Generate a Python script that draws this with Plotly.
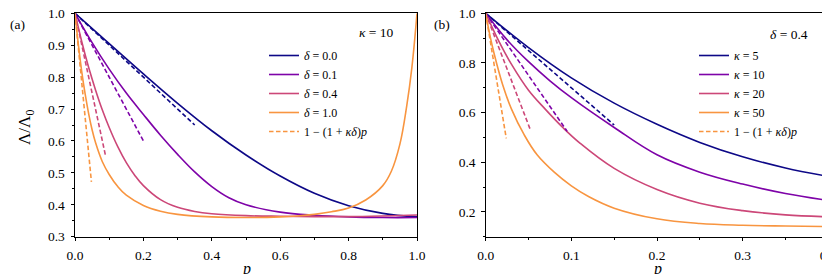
import plotly.graph_objects as go

# ---------------- data ----------------
# Panel (a): kappa = 10, various delta
A_LABELS = ["<i>δ</i> = 0.0", "<i>δ</i> = 0.1", "<i>δ</i> = 0.4", "<i>δ</i> = 1.0"]
A_P_D00 = [0, 0.1, 0.2, 0.3, 0.4, 0.5, 0.6, 0.7, 0.8, 0.9, 1.0]
A_V_D00 = [1.0, 0.905, 0.81, 0.718, 0.632, 0.556, 0.49, 0.436, 0.397, 0.373, 0.362]
A_P_D01 = [0, 0.05, 0.1, 0.15, 0.2, 0.25, 0.3, 0.35, 0.4, 0.45, 0.5, 0.6, 0.7, 0.8, 0.9, 1.0]
A_V_D01 = [1.0, 0.908, 0.825, 0.75, 0.683, 0.618, 0.558, 0.503, 0.457, 0.422, 0.4, 0.377, 0.367, 0.362, 0.36, 0.36]
A_P_D04 = [0, 0.02, 0.04, 0.06, 0.08, 0.1, 0.125, 0.15, 0.175, 0.2, 0.25, 0.3, 0.35, 0.4, 0.5, 0.6, 0.7, 0.8, 0.9, 1.0]
A_V_D04 = [1.0, 0.91, 0.83, 0.76, 0.697, 0.642, 0.582, 0.532, 0.492, 0.46, 0.416, 0.392, 0.379, 0.372, 0.366, 0.364, 0.363, 0.363, 0.365, 0.368]
A_P_D10 = [0, 0.01, 0.02, 0.03, 0.04, 0.05, 0.06, 0.08, 0.1, 0.125, 0.15, 0.2, 0.25, 0.3, 0.4, 0.5,
           0.6, 0.65, 0.7, 0.75, 0.8, 0.85, 0.9, 0.925, 0.95, 0.97, 0.985, 1.0]
A_V_D10 = [1.0, 0.9, 0.815, 0.745, 0.685, 0.635, 0.595, 0.535, 0.495, 0.457, 0.43, 0.398, 0.38, 0.37, 0.362, 0.36,
           0.362, 0.365, 0.37, 0.378, 0.39, 0.415, 0.46, 0.505, 0.59, 0.71, 0.83, 1.0]
# linear approximations 1-(1+kappa*delta)p : start and end points
A_DASH_P = [[0, 0.35], [0, 0.2], [0, 0.09], [0, 0.048]]
A_DASH_V = [[1.0, 0.65], [1.0, 0.6], [1.0, 0.55], [1.0, 0.472]]

# Panel (b): delta = 0.4, various kappa
B_LABELS = ["<i>κ</i> = 5", "<i>κ</i> = 10", "<i>κ</i> = 20", "<i>κ</i> = 50"]
B_P_K5 = [0, 0.05, 0.1, 0.15, 0.2, 0.25, 0.3, 0.35, 0.4]
B_V_K5 = [1.0, 0.862, 0.74, 0.638, 0.553, 0.48, 0.422, 0.377, 0.343]
B_P_K10 = [0, 0.025, 0.05, 0.075, 0.1, 0.15, 0.2, 0.25, 0.3, 0.35, 0.4]
B_V_K10 = [1.0, 0.893, 0.805, 0.728, 0.66, 0.54, 0.43, 0.36, 0.312, 0.274, 0.246]
B_P_K20 = [0, 0.015, 0.03, 0.05, 0.07, 0.09, 0.11, 0.15, 0.2, 0.25, 0.3, 0.35, 0.4]
B_V_K20 = [1.0, 0.89, 0.795, 0.69, 0.612, 0.54, 0.477, 0.375, 0.29, 0.235, 0.205, 0.188, 0.18]
B_P_K50 = [0, 0.005, 0.01, 0.02, 0.03, 0.045, 0.06, 0.08, 0.1, 0.12, 0.15, 0.2, 0.25, 0.3, 0.35, 0.4]
B_V_K50 = [1.0, 0.91, 0.835, 0.71, 0.615, 0.51, 0.43, 0.36, 0.305, 0.262, 0.215, 0.172, 0.153, 0.146, 0.143, 0.141]
B_DASH_P = [[0, 0.15], [0, 0.095], [0, 0.052], [0, 0.024]]
B_DASH_V = [[1.0, 0.55], [1.0, 0.525], [1.0, 0.532], [1.0, 0.496]]

DASH_LABEL = "1 − (1 + <i>κδ</i>)<i>p</i>"
COLORS = ["#0d0887", "#7e03a8", "#cc4778", "#f89540"]

# ---------------- figure ----------------
W, H = 830, 274
FONT = "Liberation Serif"

def px(x):
    return x / W

def py(y):
    return 1 - y / H

fig = go.Figure()

A_P = [A_P_D00, A_P_D01, A_P_D04, A_P_D10]
A_V = [A_V_D00, A_V_D01, A_V_D04, A_V_D10]
B_P = [B_P_K5, B_P_K10, B_P_K20, B_P_K50]
B_V = [B_V_K5, B_V_K10, B_V_K20, B_V_K50]

for panel, (PP, VV, DP, DV, labels, xa, ya, leg) in enumerate([
        (A_P, A_V, A_DASH_P, A_DASH_V, A_LABELS, "x", "y", "legend"),
        (B_P, B_V, B_DASH_P, B_DASH_V, B_LABELS, "x2", "y2", "legend2")]):
    for i in range(4):
        fig.add_trace(go.Scatter(
            x=PP[i], y=VV[i], mode="lines", name=labels[i],
            line=dict(color=COLORS[i], width=1.6, shape="spline", smoothing=1.1),
            xaxis=xa, yaxis=ya, legend=leg, showlegend=True))
    for i in range(4):
        fig.add_trace(go.Scatter(
            x=DP[i], y=DV[i], mode="lines", name=DASH_LABEL,
            line=dict(color=COLORS[i], width=1.6, dash="4.5px,2.5px"),
            xaxis=xa, yaxis=ya, legend=leg, showlegend=(i == 3)))

axis_common = dict(
    showline=True, linecolor="black", linewidth=1, mirror=True,
    ticks="outside", ticklen=3.5, tickwidth=1, tickcolor="black",
    showgrid=False, zeroline=False, automargin=False,
    tickfont=dict(family=FONT, size=13.5, color="black"),
    ticklabelstandoff=3, ticklabeloverflow="allow",
)

fig.update_layout(
    width=W, height=H,
    margin=dict(l=0, r=0, t=0, b=0),
    paper_bgcolor="white", plot_bgcolor="white",
    font=dict(family=FONT, color="black"),
    xaxis=dict(domain=[px(67), px(409)], range=[0, 1], dtick=0.2, tickformat=".1f",
               minor=dict(dtick=0.1, ticks="outside", ticklen=2, tickcolor="black"),
               anchor="y", **axis_common),
    yaxis=dict(domain=[py(228.7), py(5.3)], range=[0.3, 1.0], dtick=0.1, tickformat=".1f",
               minor=dict(dtick=0.05, ticks="outside", ticklen=2, tickcolor="black"),
               anchor="x", **axis_common),
    xaxis2=dict(domain=[px(477.7), px(820.3)], range=[0, 0.4], dtick=0.1, tickformat=".1f",
                minor=dict(dtick=0.05, ticks="outside", ticklen=2, tickcolor="black"),
                anchor="y2", **axis_common),
    yaxis2=dict(domain=[py(228.7), py(5.3)], range=[0.1, 1.0], tick0=0.2, dtick=0.2, tickformat=".1f",
                minor=dict(tick0=0.1, dtick=0.1, ticks="outside", ticklen=2, tickcolor="black"),
                anchor="x2", **axis_common),
    legend=dict(x=px(256), y=py(33), xanchor="left", yanchor="top",
                bgcolor="rgba(0,0,0,0)", borderwidth=0, itemwidth=30,
                font=dict(family=FONT, size=12, color="black")),
    legend2=dict(x=px(686), y=py(33), xanchor="left", yanchor="top",
                 bgcolor="rgba(0,0,0,0)", borderwidth=0, itemwidth=30,
                 font=dict(family=FONT, size=12, color="black")),
    showlegend=True,
)

annots = [
    dict(text="(a)", x=px(9.5), y=py(16)),
    dict(text="(b)", x=px(434), y=py(16)),
    dict(text="<i>κ</i> = 10", x=px(368), y=py(24)),
    dict(text="<i>δ</i> = 0.4", x=px(781), y=py(26)),
    dict(text="<i>p</i>", x=px(238), y=py(261), size=16),
    dict(text="<i>p</i>", x=px(649), y=py(261), size=16),
    dict(text="Λ/Λ<sub>0</sub>", x=px(18), y=py(120), size=17, angle=-90),
]
for a in annots:
    fig.add_annotation(text=a["text"], x=a["x"], y=a["y"], xref="paper", yref="paper",
                       xanchor="center", yanchor="middle", showarrow=False,
                       textangle=a.get("angle", 0),
                       font=dict(family=FONT, size=a.get("size", 13.5), color="black"))

fig.write_html("out.html")
